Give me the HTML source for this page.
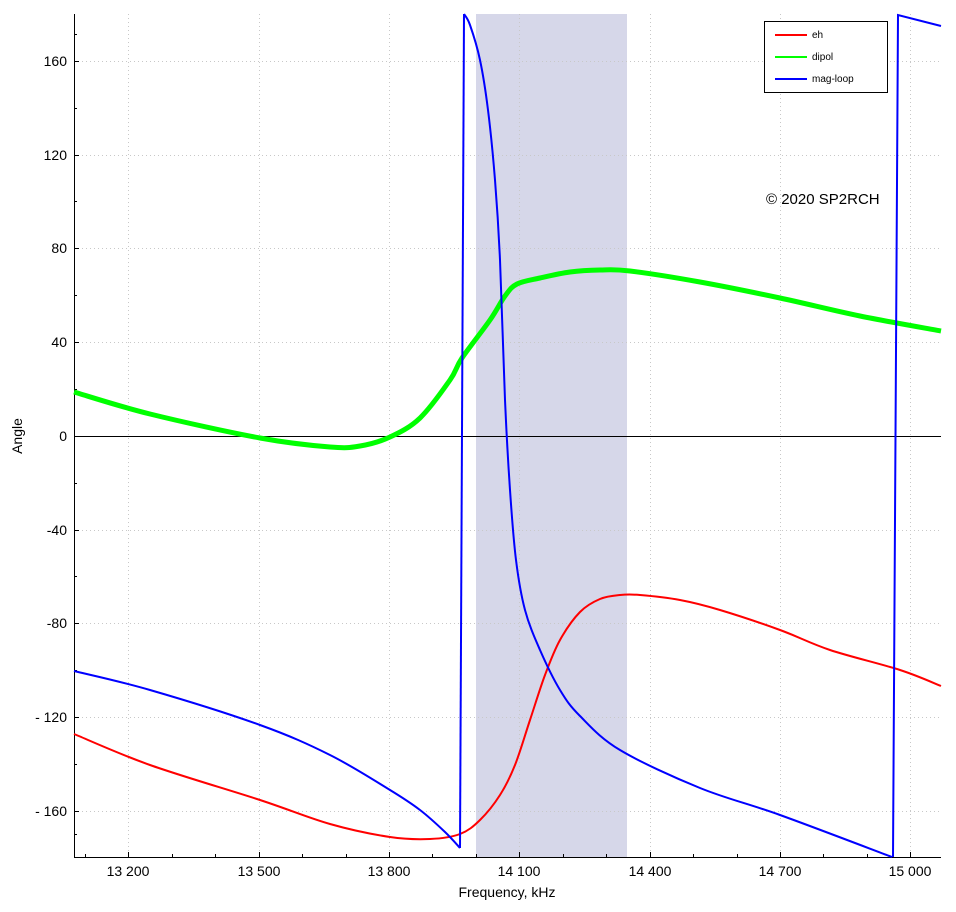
<!DOCTYPE html><html><head><style>body{margin:0;background:#fff}svg text{font-family:"Liberation Sans",sans-serif}</style></head><body>
<svg width="956" height="907" xmlns="http://www.w3.org/2000/svg">
<rect x="476" y="14" width="151" height="843" fill="#d6d7e9"/>
<g stroke="#c8c8c8" stroke-dasharray="1,3" stroke-width="1">
<line x1="128.5" y1="14" x2="128.5" y2="857"/><line x1="259.5" y1="14" x2="259.5" y2="857"/><line x1="389.5" y1="14" x2="389.5" y2="857"/><line x1="519.5" y1="14" x2="519.5" y2="857"/><line x1="650.5" y1="14" x2="650.5" y2="857"/><line x1="780.5" y1="14" x2="780.5" y2="857"/><line x1="910.5" y1="14" x2="910.5" y2="857"/>
<line x1="74" y1="61.5" x2="941" y2="61.5"/><line x1="74" y1="155.5" x2="941" y2="155.5"/><line x1="74" y1="248.5" x2="941" y2="248.5"/><line x1="74" y1="342.5" x2="941" y2="342.5"/><line x1="74" y1="530.5" x2="941" y2="530.5"/><line x1="74" y1="623.5" x2="941" y2="623.5"/><line x1="74" y1="717.5" x2="941" y2="717.5"/><line x1="74" y1="811.5" x2="941" y2="811.5"/>
</g>
<line x1="74" y1="436.5" x2="941" y2="436.5" stroke="#000"/>
<g stroke="#000" fill="none">
<line x1="74.5" y1="14" x2="74.5" y2="857"/><line x1="74" y1="857.5" x2="941" y2="857.5"/>
<path d="M74 61.5h5M74 155.5h5M74 248.5h5M74 342.5h5M74 530.5h5M74 623.5h5M74 717.5h5M74 811.5h5M74 108.5h3M74 201.5h3M74 295.5h3M74 389.5h3M74 483.5h3M74 576.5h3M74 670.5h3M74 764.5h3M74 34.5h3M74 834.5h3"/>
<path d="M128.5 857v-5M259.5 857v-5M389.5 857v-5M519.5 857v-5M650.5 857v-5M780.5 857v-5M910.5 857v-5M85.5 857v-3M172.5 857v-3M215.5 857v-3M302.5 857v-3M346.5 857v-3M432.5 857v-3M476.5 857v-3M563.5 857v-3M606.5 857v-3M693.5 857v-3M737.5 857v-3M823.5 857v-3M867.5 857v-3"/>
</g>
<g font-size="14" fill="#000" text-anchor="end">
<text x="67" y="66">160</text><text x="67" y="160">120</text><text x="67" y="253">80</text><text x="67" y="347">40</text><text x="67" y="441">0</text><text x="67" y="535">-40</text><text x="67" y="628">-80</text><text x="67" y="722">- 120</text><text x="67" y="816">- 160</text>
</g>
<g font-size="14" fill="#000" text-anchor="middle">
<text x="128" y="876">13 200</text><text x="259" y="876">13 500</text><text x="389" y="876">13 800</text><text x="519" y="876">14 100</text><text x="650" y="876">14 400</text><text x="780" y="876">14 700</text><text x="910" y="876">15 000</text>
<text x="507" y="897">Frequency, kHz</text>
</g>
<text x="22" y="436" font-size="14" text-anchor="middle" transform="rotate(-90 22 436)">Angle</text>
<text x="766" y="204" font-size="15">© 2020 SP2RCH</text>
<path id="g" fill="none" stroke="#00ff00" stroke-width="5" stroke-linejoin="round" data-p="74,392 150,414 260,438 330,447 360,446 390,437 420,418 450,380 462,358 490,320 505,296 517,284 540,278 570,272 600,270 630,271 700,282 780,298 860,316 941,331"/>
<path id="r" fill="none" stroke="#ff0000" stroke-width="2" stroke-linejoin="round" data-p="74,734 150,765 260,800 330,824 390,837 430,839 460,834 480,820 500,795 515,765 530,720 545,675 560,640 580,612 600,599 620,595 640,595 680,600 720,610 780,630 830,650 900,670 941,686"/>
<path id="b" fill="none" stroke="#0000ff" stroke-width="2" stroke-linejoin="round" data-p="74,671 150,690 260,725 330,755 390,790 420,810 445,832 460,848"/>
<path id="b2" fill="none" stroke="#0000ff" stroke-width="2" stroke-linejoin="round" data-p="464,14 470,25 480,60 488,110 495,180 500,260 505,400 510,490 516,560 525,610 540,650 560,690 580,716 620,750 700,788 780,815 892,857"/>
<polyline fill="none" stroke="#0000ff" stroke-width="2" points="460,848 464,14"/>
<polyline fill="none" stroke="#0000ff" stroke-width="2" points="893,857 898,15 941,26"/>
<rect x="764.5" y="21.5" width="123" height="71" fill="#fff" stroke="#000"/>
<g stroke-width="2"><line x1="775" y1="35" x2="807" y2="35" stroke="#f00"/><line x1="775" y1="57" x2="807" y2="57" stroke="#0f0"/><line x1="775" y1="79" x2="807" y2="79" stroke="#00f"/></g>
<g font-size="10"><text x="812" y="38">eh</text><text x="812" y="60">dipol</text><text x="812" y="82">mag-loop</text></g>
</svg>
<script>
document.querySelectorAll('path[data-p]').forEach(function(e){
var p=e.getAttribute('data-p').split(' ').map(function(s){return s.split(',').map(Number)});
var d='M'+p[0][0]+' '+p[0][1];
for(var i=0;i<p.length-1;i++){var a=p[i-1]||p[i],b=p[i],c=p[i+1],n=p[i+2]||c;
var c1=[b[0]+(c[0]-a[0])/6,b[1]+(c[1]-a[1])/6],c2=[c[0]-(n[0]-b[0])/6,c[1]-(n[1]-b[1])/6];
d+='C'+c1.join(' ')+' '+c2.join(' ')+' '+c.join(' ');}
e.setAttribute('d',d);});
</script>
</body></html>
